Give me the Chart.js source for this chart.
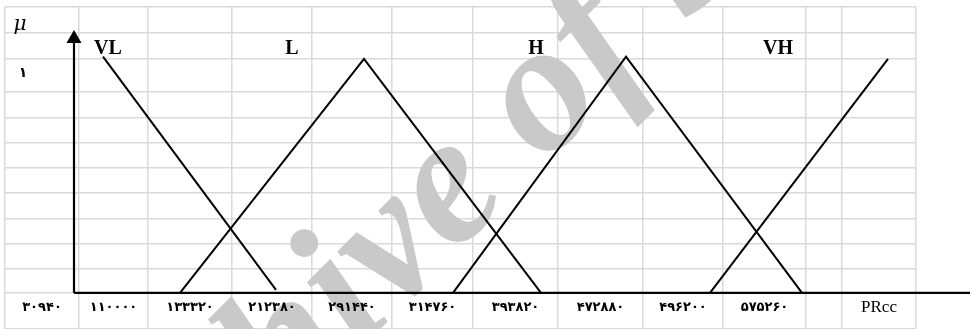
<!DOCTYPE html>
<html>
<head>
<meta charset="utf-8">
<script src="https://cdn.jsdelivr.net/npm/chart.js@4.4.1/dist/chart.umd.min.js"></script>
<style>
  body { margin: 0; background: #fff; }
  #wrap { width: 973px; height: 329px; }
</style>
</head>
<body>
<div id="wrap"><canvas id="fuzzy-chart" width="973" height="329"></canvas></div>
<script>
// x in drawing units measured from the mu axis, y is the membership degree
const setNames = ['VL', 'L', 'H', 'VH'];
const vlPoints = [{ x: 29, y: 1.01 }, { x: 202, y: 0.013 }];
const lPoints = [{ x: 106, y: 0 }, { x: 290, y: 1.0 }, { x: 467, y: 0 }];
const hPoints = [{ x: 379, y: 0 }, { x: 552, y: 1.01 }, { x: 728, y: 0 }];
const vhPoints = [{ x: 636, y: 0 }, { x: 814, y: 1.0 }];

const tickLabels = ['۳۰۹۴۰', '۱۱۰۰۰۰', '۱۳۳۳۲۰', '۲۱۲۳۸۰', '۲۹۱۴۴۰', '۳۱۴۷۶۰',
    '۳۹۳۸۲۰', '۴۷۲۸۸۰', '۴۹۶۲۰۰', '۵۷۵۲۶۰', '', 'PRcc'];
const axisTitle = 'μ';
const oneLabel = '۱';

// spreadsheet cell borders behind the figure
const gridCols = [-69, 5, 74, 158, 238, 318, 399, 484, 569, 649, 732, 768, 842];
const gridRows = [-0.154, 0, 0.103, 0.209, 0.316, 0.427, 0.534, 0.641, 0.748, 0.859, 1.0, 1.111, 1.222];

const yAxisLine = [{ x: 0, y: 0 }, { x: 0, y: 1.087 }];
const xAxisLine = [{ x: 0, y: 0 }, { x: 896, y: 0 }];

const chartEl = document.getElementById('fuzzy-chart');

function setLine(label, data) {
    return {
        label: label,
        data: data,
        borderColor: '#000',
        borderWidth: 2,
        pointRadius: 0,
        fill: false,
        clip: false
    };
}

function axisLine(label, data, radius, rotation) {
    return {
        label: label,
        data: data,
        borderColor: '#000',
        borderWidth: 2.2,
        pointStyle: 'triangle',
        pointRadius: [0, radius],
        pointRotation: rotation,
        pointBackgroundColor: '#000',
        pointBorderColor: '#000',
        pointBorderWidth: 0,
        fill: false,
        clip: false
    };
}

const textPlugin = {
    id: 'texts',
    beforeDatasetsDraw(chart) {
        // faint watermark
        const ctx = chart.ctx;
        ctx.save();
        ctx.font = 'bold italic 185px "Liberation Serif"';
        ctx.fillStyle = '#c9c9c9';
        const before = ctx.measureText('Archive ').width;
        const oW = ctx.measureText('o').width;
        ctx.translate(547, 102);
        ctx.rotate(-45 * Math.PI / 180);
        ctx.textBaseline = 'alphabetic';
        ctx.fillText('Archive of SID', -before - oW / 2, 185 * 0.23);
        ctx.restore();
    },
    afterDatasetsDraw(chart) {
        const ctx = chart.ctx;
        const xs = chart.scales.x;
        const ys = chart.scales.y;
        ctx.save();
        ctx.fillStyle = '#000';
        ctx.textAlign = 'center';
        ctx.textBaseline = 'middle';

        // persian tick labels centred in the cells under the axis
        const labelY = ys.getPixelForValue(-0.064);
        tickLabels.forEach((t, i) => {
            if (!t) return;
            const cx = xs.getPixelForValue((gridCols[i] + gridCols[i + 1]) / 2);
            ctx.font = t === 'PRcc' ? '17px "Liberation Serif"' : 'bold 13px "DejaVu Sans"';
            ctx.fillText(t, cx, labelY);
        });

        // set names above the peaks
        ctx.font = 'bold 20px "Liberation Serif"';
        const nameX = [34, 218, 462, 704];
        setNames.forEach((n, i) => {
            ctx.fillText(n, xs.getPixelForValue(nameX[i]), ys.getPixelForValue(1.043));
        });

        ctx.font = 'italic 20px "DejaVu Serif"';
        ctx.fillText(axisTitle, xs.getPixelForValue(-54), ys.getPixelForValue(1.145));
        ctx.font = 'bold 14px "DejaVu Sans"';
        ctx.fillText(oneLabel, xs.getPixelForValue(-51), ys.getPixelForValue(0.94));
        ctx.restore();
    }
};

new Chart(chartEl, {
    type: 'line',
    data: {
        datasets: [
            setLine('VL', vlPoints),
            setLine('L', lPoints),
            setLine('H', hPoints),
            setLine('VH', vhPoints),
            axisLine('mu axis', yAxisLine, 8.7, 0),
            axisLine('x axis', xAxisLine, 9.8, 90)
        ]
    },
    options: {
        responsive: false,
        animation: false,
        layout: {
            autoPadding: false,
            padding: { left: 5, top: 7, right: 57, bottom: 0 }
        },
        plugins: {
            legend: { display: false },
            tooltip: { enabled: false }
        },
        scales: {
            x: {
                type: 'linear',
                min: -69,
                max: 842,
                afterBuildTicks: s => { s.ticks = gridCols.map(v => ({ value: v })); },
                afterFit: s => { s.height = 0; },
                ticks: { display: false },
                border: { display: false },
                grid: { color: '#d9d9d9', lineWidth: 1.5, drawTicks: false }
            },
            y: {
                type: 'linear',
                min: -0.154,
                max: 1.222,
                afterBuildTicks: s => { s.ticks = gridRows.map(v => ({ value: v })); },
                afterFit: s => { s.width = 0; },
                ticks: { display: false },
                border: { display: false },
                grid: { color: '#d9d9d9', lineWidth: 1.5, drawTicks: false }
            }
        }
    },
    plugins: [textPlugin]
});
</script>
</body>
</html>
